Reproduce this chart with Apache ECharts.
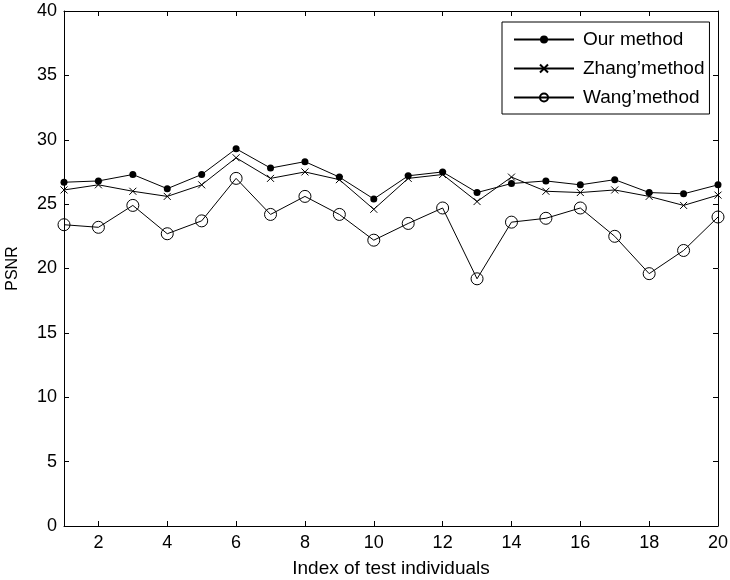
<!DOCTYPE html>
<html>
<head>
<meta charset="utf-8">
<script src="https://cdn.jsdelivr.net/npm/echarts@6/dist/echarts.min.js"></script>
<style>
  html, body { margin: 0; padding: 0; background: #fff; }
  #chart { width: 730px; height: 580px; }
</style>
</head>
<body>
<div id="chart"></div>
<script>
const indices = [1, 2, 3, 4, 5, 6, 7, 8, 9, 10, 11, 12, 13, 14, 15, 16, 17, 18, 19, 20]
const ourMethod = [26.7, 26.8, 27.3, 26.2, 27.3, 29.3, 27.8, 28.3, 27.1, 25.4, 27.2, 27.5, 25.9, 26.6, 26.8, 26.5, 26.9, 25.9, 25.8, 26.5]
const zhangMethod = [26.1, 26.5, 26.0, 25.6, 26.5, 28.6, 27.0, 27.5, 26.9, 24.6, 27.0, 27.3, 25.2, 27.1, 26.0, 25.9, 26.1, 25.6, 24.9, 25.7]
const wangMethod = [23.4, 23.2, 24.9, 22.7, 23.7, 27.0, 24.2, 25.6, 24.2, 22.2, 23.5, 24.7, 19.2, 23.6, 23.9, 24.7, 22.5, 19.6, 21.4, 24.0]
const xTicks = [2, 4, 6, 8, 10, 12, 14, 16, 18, 20]
const seriesNames = ['Our method', 'Zhang\u2019method', 'Wang\u2019method']

const font = 'Liberation Sans, Arial, sans-serif'
const pair = (ys) => ys.map((y, i) => [indices[i], y])

const chart = echarts.init(document.getElementById('chart'))

const baseX = {
  type: 'value',
  min: 1,
  max: 20,
  axisLine: { show: true, onZero: false, lineStyle: { color: '#000', width: 1 } },
  axisTick: { show: true, inside: true, length: 5, customValues: xTicks, lineStyle: { color: '#000' } },
  splitLine: { show: false }
}
const baseY = {
  type: 'value',
  min: 0,
  max: 40,
  interval: 5,
  axisLine: { show: true, onZero: false, lineStyle: { color: '#000', width: 1 } },
  axisTick: { show: true, inside: true, length: 5, lineStyle: { color: '#000' } },
  splitLine: { show: false }
}

chart.setOption({
  animation: false,
  backgroundColor: '#fff',
  grid: { left: 64, right: 12, top: 11, bottom: 54, containLabel: false, outerBoundsMode: 'none' },
  legend: {
    data: seriesNames,
    orient: 'vertical',
    left: 502,
    top: 22,
    padding: [8, 5, 7, 11],
    itemWidth: 60,
    itemHeight: 10,
    itemGap: 10,
    borderColor: '#000',
    borderWidth: 1,
    backgroundColor: '#fff',
    textStyle: { fontFamily: font, fontSize: 19, color: '#000', padding: [0, 0, 0, 4] }
  },
  xAxis: [
    Object.assign({}, baseX, {
      position: 'bottom',
      name: 'Index of test individuals',
      nameLocation: 'middle',
      nameGap: 33,
      nameTextStyle: { fontFamily: font, fontSize: 19, color: '#000' },
      axisLabel: { fontFamily: font, fontSize: 18, color: '#000', margin: 8, customValues: xTicks }
    }),
    Object.assign({}, baseX, { position: 'top', axisLabel: { show: false } })
  ],
  yAxis: [
    Object.assign({}, baseY, {
      position: 'left',
      name: 'PSNR',
      nameLocation: 'middle',
      nameGap: 43,
      nameTextStyle: { fontFamily: font, fontSize: 16, color: '#000' },
      axisLabel: { fontFamily: font, fontSize: 18, color: '#000', margin: 7 }
    }),
    Object.assign({}, baseY, { position: 'right', axisLabel: { show: false } })
  ],
  series: [
    {
      name: seriesNames[0],
      type: 'line',
      data: pair(ourMethod),
      symbol: 'circle',
      symbolSize: 7,
      showAllSymbol: true,
      lineStyle: { color: '#000', width: 1 },
      itemStyle: { color: '#000', borderColor: '#000', borderWidth: 0 }
    },
    {
      name: seriesNames[1],
      type: 'line',
      data: pair(zhangMethod),
      symbol: 'path://M0 0L10 10M10 0L0 10',
      symbolSize: 7,
      showAllSymbol: true,
      lineStyle: { color: '#000', width: 1 },
      itemStyle: { color: 'none', borderColor: '#000', borderWidth: 1 }
    },
    {
      name: seriesNames[2],
      type: 'line',
      data: pair(wangMethod),
      symbol: 'circle',
      symbolSize: 12,
      showAllSymbol: true,
      lineStyle: { color: '#000', width: 1 },
      itemStyle: { color: 'none', borderColor: '#000', borderWidth: 1 }
    }
  ]
})
</script>
</body>
</html>
